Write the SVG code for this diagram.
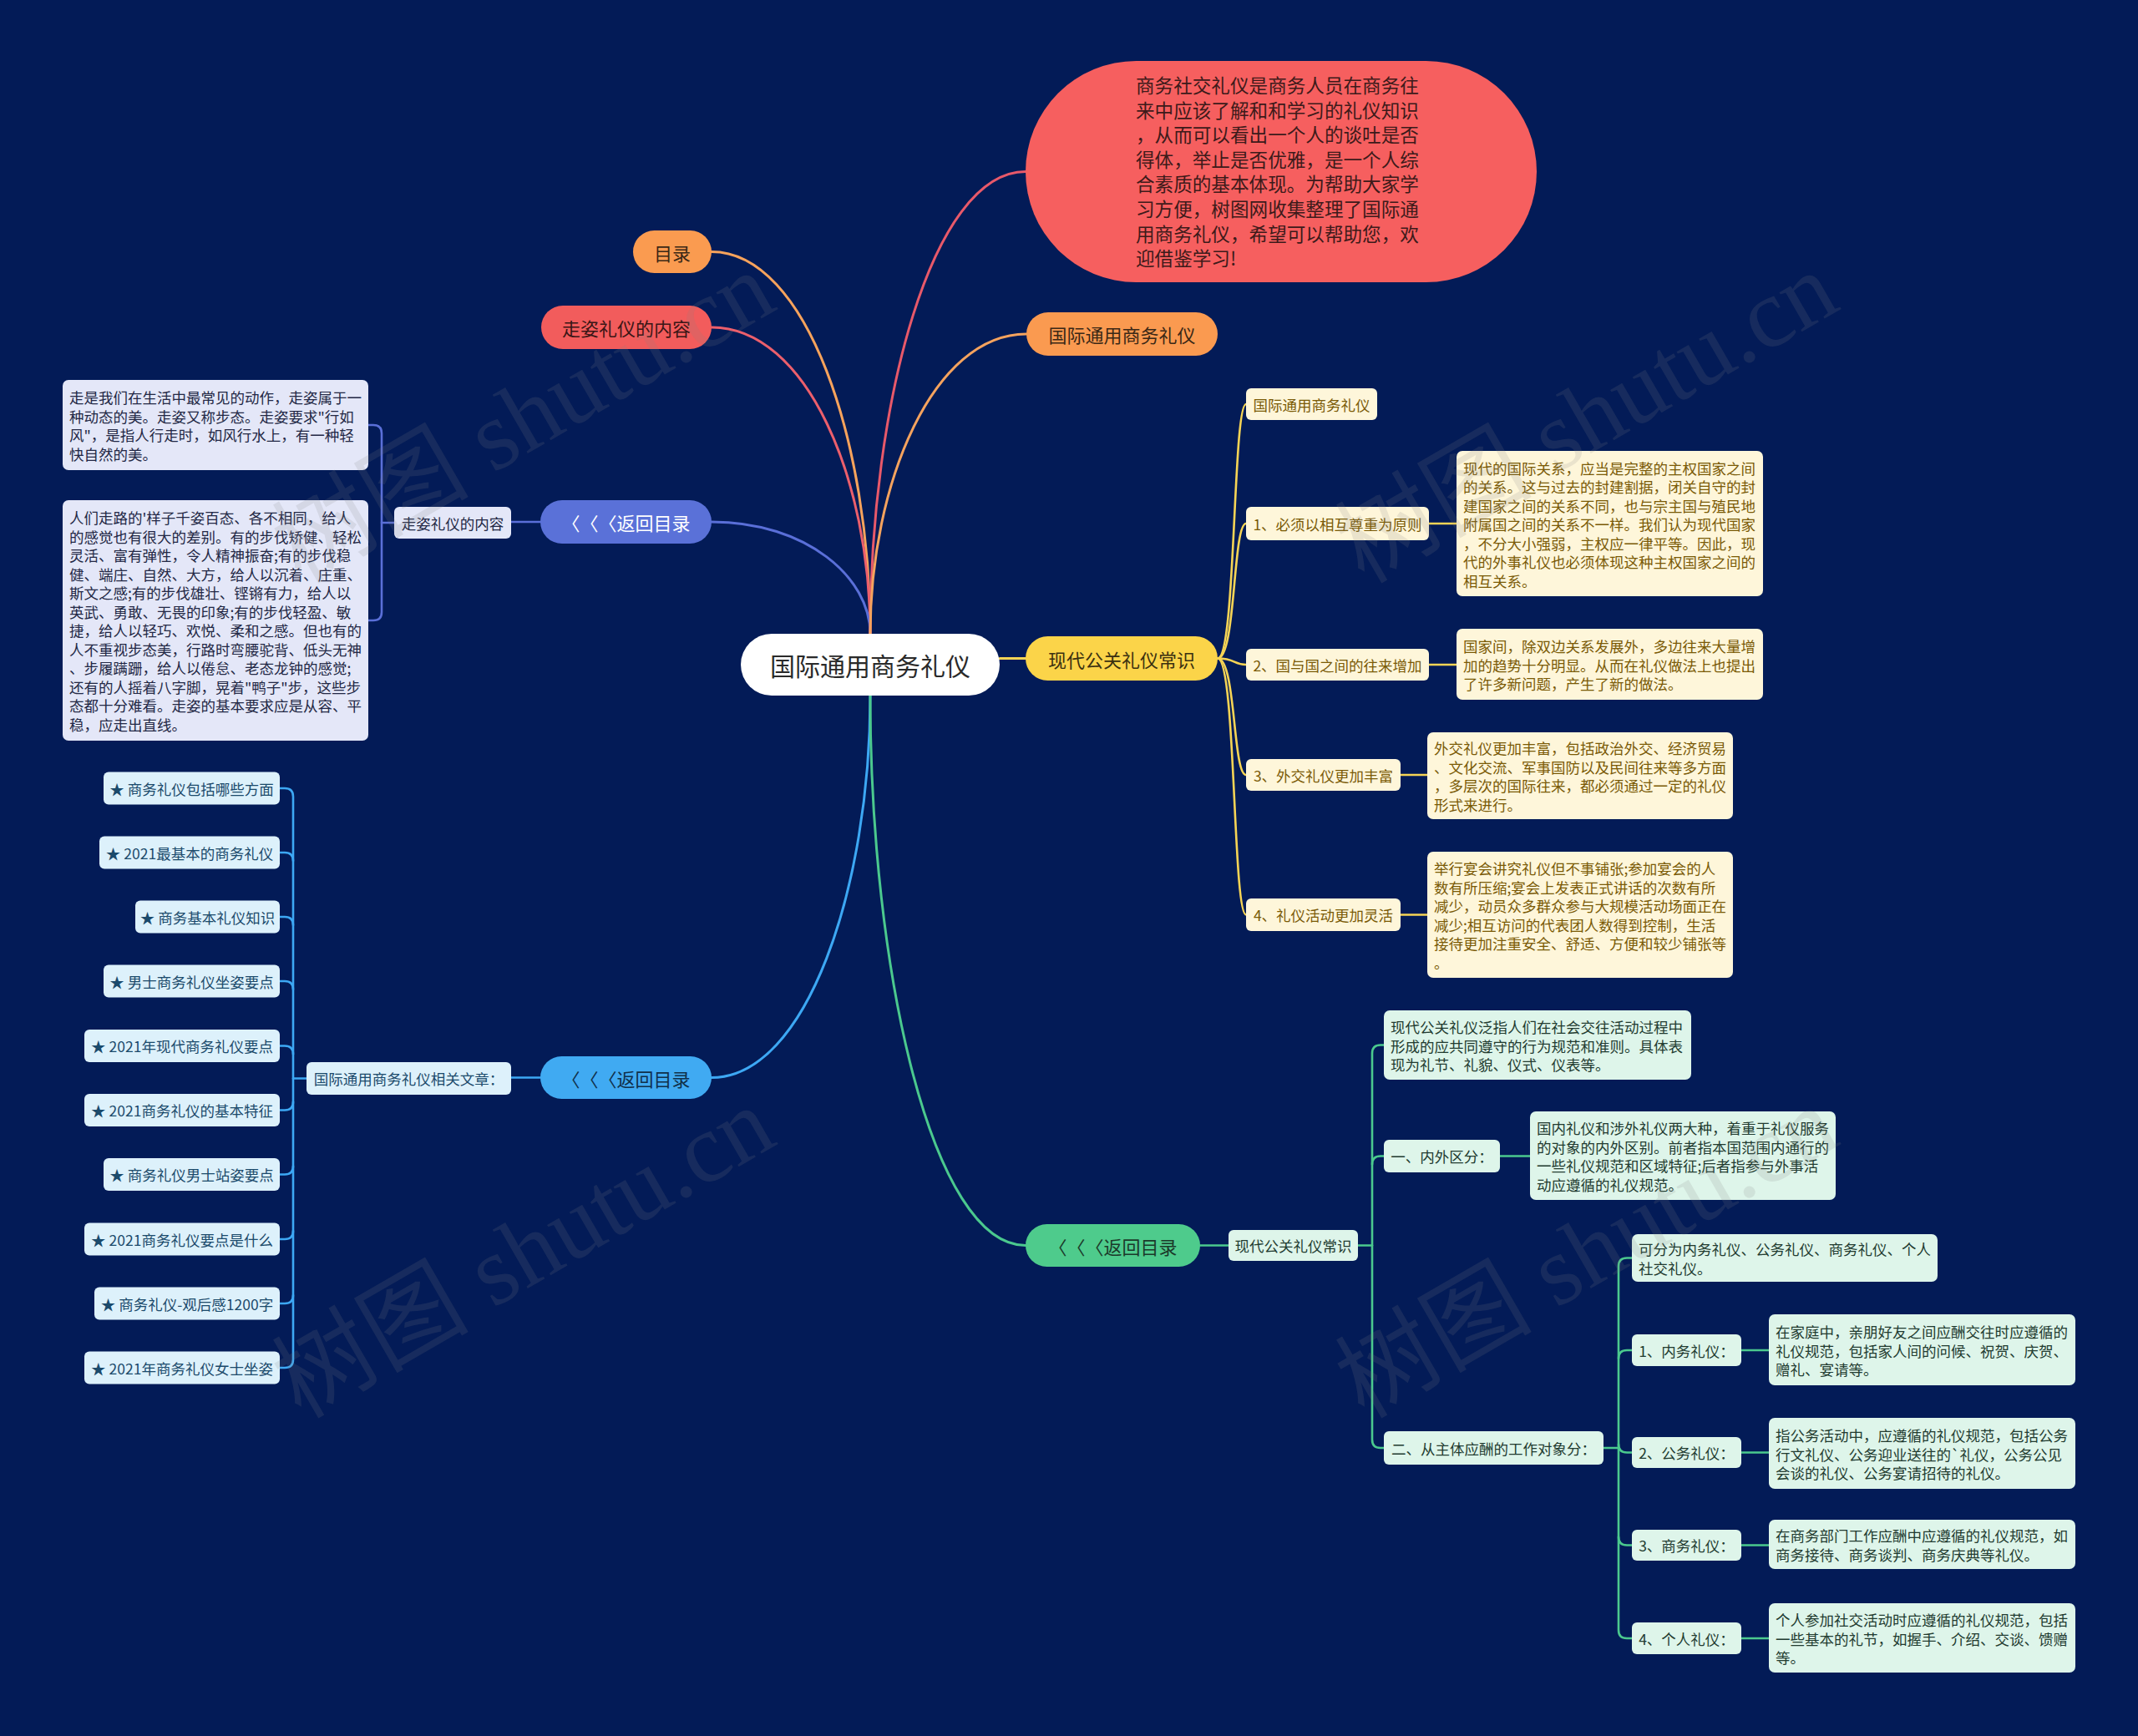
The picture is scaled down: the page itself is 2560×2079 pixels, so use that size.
<svg xmlns="http://www.w3.org/2000/svg" width="2560" height="2079" viewBox="0 0 2560 2079">
<defs>
<style>
text{font-family:"Noto Sans CJK SC","Noto Sans",sans-serif;dominant-baseline:central;text-spacing-trim:space-all}
.c{fill:none;stroke-width:3;stroke-linecap:round}
.s{fill:none;stroke-width:2.6;stroke-linecap:round}
.mid{text-anchor:middle}
.lav rect{fill:#E4E7F8}
.lav text{fill:#232845;font-size:17.5px}
.yel rect{fill:#FEF6DA}
.yel text{fill:#7A5A06;font-size:17.5px}
.blu rect{fill:#DDF1FB}
.blu text{fill:#1B4A6B;font-size:17.5px}
.grn rect{fill:#DEF5EA}
.grn text{fill:#223B30;font-size:17.5px}
.main text{font-size:22px}
.wm{font-family:"Liberation Serif","Noto Sans CJK SC",serif;font-size:118px;fill:#808080;fill-opacity:0.16;dominant-baseline:alphabetic}
</style>
</defs>
<rect width="2560" height="2079" fill="#031B57"/>

<g id="connectors">
  <path class="c" stroke="#F7A35C" d="M1042,759 C1042,530 966,301.5 852,301.5"/>
  <path class="c" stroke="#EC5F6C" d="M1042,759 C1042,575 966,392 852,392"/>
  <path class="c" stroke="#5A6FD8" d="M1042,759 C1042,692 966,625 852,625"/>
  <path class="c" stroke="#E8596A" d="M1042,759 C1042,482 1116,205.5 1228,205.5"/>
  <path class="c" stroke="#F5A35E" d="M1042,759 C1042,580 1117,400 1229,400"/>
  <path class="c" stroke="#F6D455" d="M1197,788.5 H1228"/>
  <path class="c" stroke="#3DA8F4" d="M1042,833 C1042,1062 966,1290.5 852,1290.5"/>
  <path class="c" stroke="#4BC98E" d="M1042,833 C1042,1162 1116,1491.5 1228,1491.5"/>

  <path class="s" stroke="#5A6FD8" d="M647,625 H612"/>
  <path class="s" stroke="#5A6FD8" d="M472,626 H457"/>
  <path class="s" stroke="#5A6FD8" d="M441,509 H447 Q457,509 457,519 V733 Q457,743 447,743 H441"/>

  <path class="s" stroke="#3DA8F4" d="M647,1290.5 H612"/>
  <path class="s" stroke="#3DA8F4" d="M367,1291.5 H351"/>
  <path class="s" stroke="#3DA8F4" d="M335,944 H341 Q351,944 351,954 V1628 Q351,1638 341,1638 H335"/>
  <path class="s" stroke="#3DA8F4" d="M335,1021 H341 Q351,1021 351,1031"/>
  <path class="s" stroke="#3DA8F4" d="M335,1098 H341 Q351,1098 351,1108"/>
  <path class="s" stroke="#3DA8F4" d="M335,1175 H341 Q351,1175 351,1185"/>
  <path class="s" stroke="#3DA8F4" d="M335,1252.5 H341 Q351,1252.5 351,1262.5"/>
  <path class="s" stroke="#3DA8F4" d="M335,1329.5 H341 Q351,1329.5 351,1319.5"/>
  <path class="s" stroke="#3DA8F4" d="M335,1406.5 H341 Q351,1406.5 351,1396.5"/>
  <path class="s" stroke="#3DA8F4" d="M335,1484 H341 Q351,1484 351,1474"/>
  <path class="s" stroke="#3DA8F4" d="M335,1561 H341 Q351,1561 351,1551"/>

  <path class="s" stroke="#F6D455" d="M1458,788.5 C1480,788.5 1476,484 1492,484"/>
  <path class="s" stroke="#F6D455" d="M1458,788.5 C1480,788.5 1476,627 1492,627"/>
  <path class="s" stroke="#F6D455" d="M1458,788.5 C1480,788.5 1476,796 1492,796"/>
  <path class="s" stroke="#F6D455" d="M1458,788.5 C1480,788.5 1476,928 1492,928"/>
  <path class="s" stroke="#F6D455" d="M1458,788.5 C1480,788.5 1476,1095.5 1492,1095.5"/>
  <path class="s" stroke="#F6D455" d="M1711,627 H1744"/>
  <path class="s" stroke="#F6D455" d="M1711,796 H1744"/>
  <path class="s" stroke="#F6D455" d="M1677,928 H1709"/>
  <path class="s" stroke="#F6D455" d="M1677,1095.5 H1709"/>

  <path class="s" stroke="#4BC98E" d="M1437,1491.5 H1471"/>
  <path class="s" stroke="#4BC98E" d="M1626,1491.5 H1643"/>
  <path class="s" stroke="#4BC98E" d="M1657,1251.5 H1653 Q1643,1251.5 1643,1261.5 V1724 Q1643,1734 1653,1734 H1657"/>
  <path class="s" stroke="#4BC98E" d="M1657,1384.5 H1653 Q1643,1384.5 1643,1394.5"/>
  <path class="s" stroke="#4BC98E" d="M1796,1384.5 H1832"/>
  <path class="s" stroke="#4BC98E" d="M1920,1734 H1938"/>
  <path class="s" stroke="#4BC98E" d="M1954,1506.5 H1948 Q1938,1506.5 1938,1516.5 V1952 Q1938,1962 1948,1962 H1954"/>
  <path class="s" stroke="#4BC98E" d="M1954,1617 H1948 Q1938,1617 1938,1627"/>
  <path class="s" stroke="#4BC98E" d="M1954,1739.5 H1948 Q1938,1739.5 1938,1729.5"/>
  <path class="s" stroke="#4BC98E" d="M1954,1850.5 H1948 Q1938,1850.5 1938,1840.5"/>
  <path class="s" stroke="#4BC98E" d="M2085,1617 H2118"/>
  <path class="s" stroke="#4BC98E" d="M2085,1739.5 H2118"/>
  <path class="s" stroke="#4BC98E" d="M2085,1850.5 H2118"/>
  <path class="s" stroke="#4BC98E" d="M2085,1962 H2118"/>
</g>

<g id="center">
  <rect x="887" y="759" width="310" height="74" rx="37" fill="#FFFFFF"/>
  <text x="1042" y="796" class="mid" font-size="30" fill="#2A2A2A">国际通用商务礼仪</text>
</g>

<g id="intro">
  <rect x="1228" y="73" width="612" height="265" rx="132.5" fill="#F65F5F"/>
  <text font-size="22.6" fill="#3D1A1A">
    <tspan x="1360" y="101">商务社交礼仪是商务人员在商务往</tspan>
    <tspan x="1360" y="130.6">来中应该了解和和学习的礼仪知识</tspan>
    <tspan x="1360" y="160.2">，从而可以看出一个人的谈吐是否</tspan>
    <tspan x="1360" y="189.8">得体，举止是否优雅，是一个人综</tspan>
    <tspan x="1360" y="219.4">合素质的基本体现。为帮助大家学</tspan>
    <tspan x="1360" y="249">习方便，树图网收集整理了国际通</tspan>
    <tspan x="1360" y="278.6">用商务礼仪，希望可以帮助您，欢</tspan>
    <tspan x="1360" y="308.2">迎借鉴学习!</tspan>
  </text>
</g>

<g class="main">
  <g id="mulu">
    <rect x="758" y="276" width="94" height="51" rx="25.5" fill="#FA9B50"/>
    <text x="805" y="301.5" class="mid" fill="#3A2816">目录</text>
  </g>
  <g id="zouzi">
    <rect x="648" y="366" width="204" height="52" rx="26" fill="#F25C5C"/>
    <text x="750" y="392" class="mid" fill="#3A1616">走姿礼仪的内容</text>
  </g>
  <g id="guoji">
    <rect x="1229" y="374" width="229" height="52" rx="26" fill="#FA9A50"/>
    <text x="1343.5" y="400" class="mid" fill="#3A2816">国际通用商务礼仪</text>
  </g>
  <g id="back1">
    <rect x="647" y="599" width="205" height="52" rx="26" fill="#5A71D8"/>
    <text x="749.5" y="625" class="mid" fill="#FFFFFF">〈〈〈返回目录</text>
  </g>
  <g id="back2">
    <rect x="647" y="1265" width="205" height="51" rx="25.5" fill="#40AAF2"/>
    <text x="749.5" y="1290.5" class="mid" fill="#10304A">〈〈〈返回目录</text>
  </g>
  <g id="xiandai">
    <rect x="1228" y="762" width="230" height="53" rx="26.5" fill="#FBD449"/>
    <text x="1343" y="788.5" class="mid" fill="#3A3010">现代公关礼仪常识</text>
  </g>
  <g id="back3">
    <rect x="1228" y="1466" width="209" height="51" rx="25.5" fill="#4ECB8C"/>
    <text x="1332.5" y="1491.5" class="mid" fill="#1B3A2A">〈〈〈返回目录</text>
  </g>
</g>

<g class="lav">
  <g id="zouzi-label">
    <rect x="472" y="607" width="140" height="38" rx="6"/>
    <text x="542" y="626" class="mid">走姿礼仪的内容</text>
  </g>
  <g id="zouzi-t1">
    <rect x="75" y="455" width="366" height="108" rx="7"/>
    <text>
      <tspan x="83" y="475.25">走是我们在生活中最常见的动作，走姿属于一</tspan>
      <tspan x="83" y="497.75">种动态的美。走姿又称步态。走姿要求"行如</tspan>
      <tspan x="83" y="520.25">风"，是指人行走时，如风行水上，有一种轻</tspan>
      <tspan x="83" y="542.75">快自然的美。</tspan>
    </text>
  </g>
  <g id="zouzi-t2">
    <rect x="75" y="599" width="366" height="288" rx="7"/>
    <text>
      <tspan x="83" y="619.25">人们走路的'样子千姿百态、各不相同，给人</tspan>
      <tspan x="83" y="641.75">的感觉也有很大的差别。有的步伐矫健、轻松</tspan>
      <tspan x="83" y="664.25">灵活、富有弹性，令人精神振奋;有的步伐稳</tspan>
      <tspan x="83" y="686.75">健、端庄、自然、大方，给人以沉着、庄重、</tspan>
      <tspan x="83" y="709.25">斯文之感;有的步伐雄壮、铿锵有力，给人以</tspan>
      <tspan x="83" y="731.75">英武、勇敢、无畏的印象;有的步伐轻盈、敏</tspan>
      <tspan x="83" y="754.25">捷，给人以轻巧、欢悦、柔和之感。但也有的</tspan>
      <tspan x="83" y="776.75">人不重视步态美，行路时弯腰驼背、低头无神</tspan>
      <tspan x="83" y="799.25">、步履蹒跚，给人以倦怠、老态龙钟的感觉;</tspan>
      <tspan x="83" y="821.75">还有的人摇着八字脚，晃着"鸭子"步，这些步</tspan>
      <tspan x="83" y="844.25">态都十分难看。走姿的基本要求应是从容、平</tspan>
      <tspan x="83" y="866.75">稳，应走出直线。</tspan>
    </text>
  </g>
</g>

<g class="blu">
  <g id="related-label">
    <rect x="367" y="1272" width="245" height="39" rx="6"/>
    <text x="489.5" y="1291.5" class="mid">国际通用商务礼仪相关文章：</text>
  </g>
  <g id="r1"><rect x="124" y="924.5" width="211" height="39" rx="6"/><text x="229.5" y="944" class="mid">★ 商务礼仪包括哪些方面</text></g>
  <g id="r2"><rect x="119" y="1001.5" width="216" height="39" rx="6"/><text x="227" y="1021" class="mid">★ 2021最基本的商务礼仪</text></g>
  <g id="r3"><rect x="162" y="1078.5" width="173" height="39" rx="6"/><text x="248.5" y="1098" class="mid">★ 商务基本礼仪知识</text></g>
  <g id="r4"><rect x="124" y="1155.5" width="211" height="39" rx="6"/><text x="229.5" y="1175" class="mid">★ 男士商务礼仪坐姿要点</text></g>
  <g id="r5"><rect x="101" y="1233" width="234" height="39" rx="6"/><text x="218" y="1252.5" class="mid">★ 2021年现代商务礼仪要点</text></g>
  <g id="r6"><rect x="101" y="1310" width="234" height="39" rx="6"/><text x="218" y="1329.5" class="mid">★ 2021商务礼仪的基本特征</text></g>
  <g id="r7"><rect x="124" y="1387" width="211" height="39" rx="6"/><text x="229.5" y="1406.5" class="mid">★ 商务礼仪男士站姿要点</text></g>
  <g id="r8"><rect x="101" y="1464.5" width="234" height="39" rx="6"/><text x="218" y="1484" class="mid">★ 2021商务礼仪要点是什么</text></g>
  <g id="r9"><rect x="113" y="1541.5" width="222" height="39" rx="6"/><text x="224" y="1561" class="mid">★ 商务礼仪-观后感1200字</text></g>
  <g id="r10"><rect x="101" y="1618.5" width="234" height="39" rx="6"/><text x="218" y="1638" class="mid">★ 2021年商务礼仪女士坐姿</text></g>
</g>

<g class="yel">
  <g id="y0"><rect x="1492" y="465" width="157" height="38" rx="6"/><text x="1570.5" y="484" class="mid">国际通用商务礼仪</text></g>
  <g id="y1"><rect x="1492" y="607" width="219" height="40" rx="6"/><text x="1601.5" y="627" class="mid">1、必须以相互尊重为原则</text></g>
  <g id="y2"><rect x="1492" y="777" width="219" height="38" rx="6"/><text x="1601.5" y="796" class="mid">2、国与国之间的往来增加</text></g>
  <g id="y3"><rect x="1492" y="909" width="185" height="38" rx="6"/><text x="1584.5" y="928" class="mid">3、外交礼仪更加丰富</text></g>
  <g id="y4"><rect x="1492" y="1076" width="185" height="39" rx="6"/><text x="1584.5" y="1095.5" class="mid">4、礼仪活动更加灵活</text></g>
  <g id="y1d">
    <rect x="1744" y="540" width="367" height="174" rx="7"/>
    <text>
      <tspan x="1752" y="559.5">现代的国际关系，应当是完整的主权国家之间</tspan>
      <tspan x="1752" y="582">的关系。这与过去的封建割据，闭关自守的封</tspan>
      <tspan x="1752" y="604.5">建国家之间的关系不同，也与宗主国与殖民地</tspan>
      <tspan x="1752" y="627">附属国之间的关系不一样。我们认为现代国家</tspan>
      <tspan x="1752" y="649.5">，不分大小强弱，主权应一律平等。因此，现</tspan>
      <tspan x="1752" y="672">代的外事礼仪也必须体现这种主权国家之间的</tspan>
      <tspan x="1752" y="694.5">相互关系。</tspan>
    </text>
  </g>
  <g id="y2d">
    <rect x="1744" y="753" width="367" height="85" rx="7"/>
    <text>
      <tspan x="1752" y="773">国家间，除双边关系发展外，多边往来大量增</tspan>
      <tspan x="1752" y="795.5">加的趋势十分明显。从而在礼仪做法上也提出</tspan>
      <tspan x="1752" y="818">了许多新问题，产生了新的做法。</tspan>
    </text>
  </g>
  <g id="y3d">
    <rect x="1709" y="877" width="366" height="104" rx="7"/>
    <text>
      <tspan x="1717" y="895.25">外交礼仪更加丰富，包括政治外交、经济贸易</tspan>
      <tspan x="1717" y="917.75">、文化交流、军事国防以及民间往来等多方面</tspan>
      <tspan x="1717" y="940.25">，多层次的国际往来，都必须通过一定的礼仪</tspan>
      <tspan x="1717" y="962.75">形式来进行。</tspan>
    </text>
  </g>
  <g id="y4d">
    <rect x="1709" y="1020" width="366" height="151" rx="7"/>
    <text>
      <tspan x="1717" y="1039.25">举行宴会讲究礼仪但不事铺张;参加宴会的人</tspan>
      <tspan x="1717" y="1061.75">数有所压缩;宴会上发表正式讲话的次数有所</tspan>
      <tspan x="1717" y="1084.25">减少，动员众多群众参与大规模活动场面正在</tspan>
      <tspan x="1717" y="1106.75">减少;相互访问的代表团人数得到控制，生活</tspan>
      <tspan x="1717" y="1129.25">接待更加注重安全、舒适、方便和较少铺张等</tspan>
      <tspan x="1717" y="1151.75">。</tspan>
    </text>
  </g>
</g>

<g class="grn">
  <g id="g-label"><rect x="1471" y="1473" width="155" height="37" rx="6"/><text x="1548.5" y="1491.5" class="mid">现代公关礼仪常识</text></g>
  <g id="g0">
    <rect x="1657" y="1210" width="368" height="83" rx="7"/>
    <text>
      <tspan x="1665" y="1229">现代公关礼仪泛指人们在社会交往活动过程中</tspan>
      <tspan x="1665" y="1251.5">形成的应共同遵守的行为规范和准则。具体表</tspan>
      <tspan x="1665" y="1274">现为礼节、礼貌、仪式、仪表等。</tspan>
    </text>
  </g>
  <g id="g1"><rect x="1657" y="1365" width="139" height="39" rx="6"/><text x="1726.5" y="1384.5" class="mid">一、内外区分：</text></g>
  <g id="g1d">
    <rect x="1832" y="1331" width="366" height="106" rx="7"/>
    <text>
      <tspan x="1840" y="1350.25">国内礼仪和涉外礼仪两大种，着重于礼仪服务</tspan>
      <tspan x="1840" y="1372.75">的对象的内外区别。前者指本国范围内通行的</tspan>
      <tspan x="1840" y="1395.25">一些礼仪规范和区域特征;后者指参与外事活</tspan>
      <tspan x="1840" y="1417.75">动应遵循的礼仪规范。</tspan>
    </text>
  </g>
  <g id="g2"><rect x="1657" y="1714" width="263" height="40" rx="6"/><text x="1788.5" y="1734" class="mid">二、从主体应酬的工作对象分：</text></g>
  <g id="s0">
    <rect x="1954" y="1478" width="366" height="57" rx="7"/>
    <text>
      <tspan x="1962" y="1495.25">可分为内务礼仪、公务礼仪、商务礼仪、个人</tspan>
      <tspan x="1962" y="1517.75">社交礼仪。</tspan>
    </text>
  </g>
  <g id="s1"><rect x="1954" y="1598" width="131" height="38" rx="6"/><text x="2019.5" y="1617" class="mid">1、内务礼仪：</text></g>
  <g id="s1d">
    <rect x="2118" y="1574" width="367" height="85" rx="7"/>
    <text>
      <tspan x="2126" y="1594">在家庭中，亲朋好友之间应酬交往时应遵循的</tspan>
      <tspan x="2126" y="1616.5">礼仪规范，包括家人间的问候、祝贺、庆贺、</tspan>
      <tspan x="2126" y="1639">赠礼、宴请等。</tspan>
    </text>
  </g>
  <g id="s2"><rect x="1954" y="1721" width="131" height="37" rx="6"/><text x="2019.5" y="1739.5" class="mid">2、公务礼仪：</text></g>
  <g id="s2d">
    <rect x="2118" y="1698" width="367" height="85" rx="7"/>
    <text>
      <tspan x="2126" y="1718">指公务活动中，应遵循的礼仪规范，包括公务</tspan>
      <tspan x="2126" y="1740.5">行文礼仪、公务迎业送往的`礼仪，公务公见</tspan>
      <tspan x="2126" y="1763">会谈的礼仪、公务宴请招待的礼仪。</tspan>
    </text>
  </g>
  <g id="s3"><rect x="1954" y="1832" width="131" height="37" rx="6"/><text x="2019.5" y="1850.5" class="mid">3、商务礼仪：</text></g>
  <g id="s3d">
    <rect x="2118" y="1820" width="367" height="59" rx="7"/>
    <text>
      <tspan x="2126" y="1838.25">在商务部门工作应酬中应遵循的礼仪规范，如</tspan>
      <tspan x="2126" y="1860.75">商务接待、商务谈判、商务庆典等礼仪。</tspan>
    </text>
  </g>
  <g id="s4"><rect x="1954" y="1943" width="131" height="38" rx="6"/><text x="2019.5" y="1962" class="mid">4、个人礼仪：</text></g>
  <g id="s4d">
    <rect x="2118" y="1920" width="367" height="83" rx="7"/>
    <text>
      <tspan x="2126" y="1939">个人参加社交活动时应遵循的礼仪规范，包括</tspan>
      <tspan x="2126" y="1961.5">一些基本的礼节，如握手、介绍、交谈、馈赠</tspan>
      <tspan x="2126" y="1984">等。</tspan>
    </text>
  </g>
</g>

<g id="watermarks">
  <text class="wm" x="360" y="700" transform="rotate(-30 360 700)">树图 shutu.cn</text>
  <text class="wm" x="1633" y="700" transform="rotate(-30 1633 700)">树图 shutu.cn</text>
  <text class="wm" x="360" y="1700" transform="rotate(-30 360 1700)">树图 shutu.cn</text>
  <text class="wm" x="1633" y="1700" transform="rotate(-30 1633 1700)">树图 shutu.cn</text>
</g>
</svg>
